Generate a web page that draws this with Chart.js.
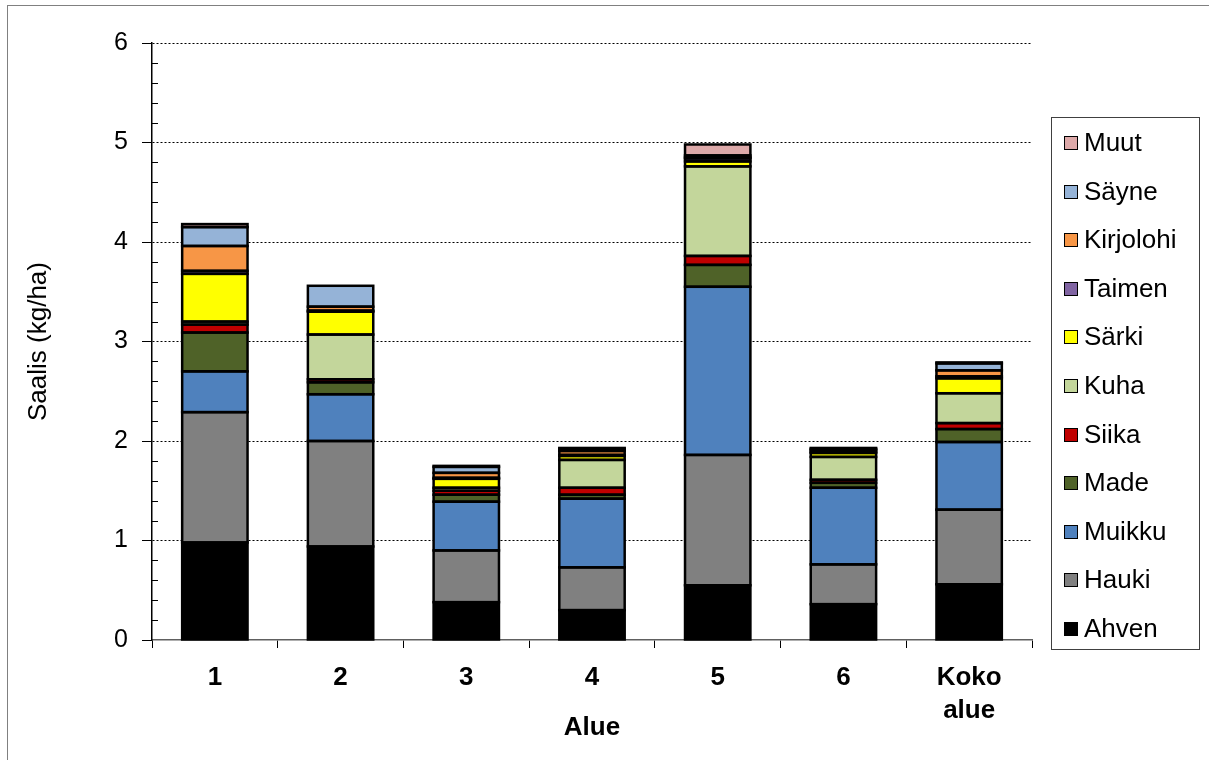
<!DOCTYPE html>
<html lang="fi">
<head>
<meta charset="utf-8">
<title>Saalis alueittain</title>
<script src="https://cdn.jsdelivr.net/npm/chart.js@4.4.1/dist/chart.umd.min.js"></script>
<style>
    html, body { margin: 0; padding: 0; background: #fff; }
    #wrap { position: relative; width: 1209px; height: 760px; overflow: hidden; }
    #frame {
        position: absolute; left: 7px; top: 5px; width: 1300px; height: 900px;
        border-left: 1px solid #808080; border-top: 1px solid #808080;
    }
    #chart { position: absolute; left: 0; top: 0; }
    #legend {
        position: absolute; left: 1051px; top: 117px; width: 149px; height: 533px;
        border: 1px solid #404040; box-sizing: border-box;
        font-family: "Liberation Sans", Arial, sans-serif; font-size: 26px; color: #000;
    }
    .item { position: absolute; left: 12px; height: 28px; line-height: 28px; white-space: nowrap; }
    .box {
        display: inline-block; width: 12px; height: 12px; border: 1.5px solid #000;
        margin-right: 6px; vertical-align: 1px;
    }
</style>
</head>
<body>
<div id="wrap">
    <div id="frame"></div>
    <canvas id="chart" width="1209" height="760"></canvas>
    <div id="legend"></div>
</div>
<script>
// Alueet ja lajikohtainen saalis (kg/ha), alhaalta ylös
const alueet = ['1', '2', '3', '4', '5', '6', ['Koko', 'alue']];

const ahven     = [0.98, 0.94, 0.38, 0.30, 0.55, 0.36, 0.56];
const hauki     = [1.31, 1.06, 0.52, 0.43, 1.31, 0.40, 0.75];
const muikku    = [0.41, 0.47, 0.49, 0.69, 1.69, 0.77, 0.68];
const made      = [0.39, 0.12, 0.07, 0.04, 0.22, 0.05, 0.13];
const siika     = [0.08, 0.03, 0.04, 0.07, 0.09, 0.03, 0.06];
const kuha      = [0.03, 0.45, 0.03, 0.28, 0.90, 0.23, 0.30];
const sarki     = [0.48, 0.23, 0.09, 0.04, 0.05, 0.04, 0.15];
const taimen    = [0.03, 0.01, 0.01, 0.01, 0.03, 0.01, 0.02];
const kirjolohi = [0.25, 0.04, 0.05, 0.04, 0.01, 0.02, 0.06];
const sayne     = [0.19, 0.21, 0.06, 0.02, 0.02, 0.01, 0.07];
const muut      = [0.03, 0.00, 0.01, 0.01, 0.11, 0.01, 0.01];

const yTicks = [0, 1, 2, 3, 4, 5, 6];

const lajit = [
    { label: 'Ahven',     data: ahven,     color: '#000000' },
    { label: 'Hauki',     data: hauki,     color: '#808080' },
    { label: 'Muikku',    data: muikku,    color: '#4F81BD' },
    { label: 'Made',      data: made,      color: '#4F6228' },
    { label: 'Siika',     data: siika,     color: '#C00000' },
    { label: 'Kuha',      data: kuha,      color: '#C3D69B' },
    { label: 'Särki',     data: sarki,     color: '#FFFF00' },
    { label: 'Taimen',    data: taimen,    color: '#8064A2' },
    { label: 'Kirjolohi', data: kirjolohi, color: '#F79646' },
    { label: 'Säyne',     data: sayne,     color: '#95B3D7' },
    { label: 'Muut',      data: muut,      color: '#DDA9A9' }
];

const FONT = '"Liberation Sans", Arial, sans-serif';

// Pienet väliviivat y-akselille (0.2 välein, sisäänpäin)
const minorTicks = {
    id: 'minorTicks',
    afterDraw(chart) {
        const y = chart.scales.y;
        const ctx = chart.ctx;
        const x0 = chart.chartArea.left;
        ctx.save();
        ctx.strokeStyle = '#000';
        ctx.lineWidth = 1;
        for (let i = 1; i < 30; i++) {
            if (i % 5 === 0) continue;
            const py = Math.round(y.getPixelForValue(i / 5)) + 0.5;
            ctx.beginPath();
            ctx.moveTo(x0, py);
            ctx.lineTo(x0 + 6, py);
            ctx.stroke();
        }
        ctx.restore();
    }
};

// Mustat reunaviivat keskitettynä segmenttien rajoille (kuten Excelissä)
const segmentOutline = {
    id: 'segmentOutline',
    afterDatasetsDraw(chart) {
        const ctx = chart.ctx;
        ctx.save();
        ctx.strokeStyle = '#000';
        ctx.lineWidth = 2.5;
        chart.data.datasets.forEach((ds, di) => {
            const meta = chart.getDatasetMeta(di);
            meta.data.forEach((bar, i) => {
                if (!ds.data[i]) return;
                const { x, y, base, width } = bar.getProps(['x', 'y', 'base', 'width'], true);
                const top = Math.min(y, base);
                ctx.strokeRect(x - width / 2, top, width, Math.abs(base - y));
            });
        });
        ctx.restore();
    }
};

const ctx = document.getElementById('chart').getContext('2d');
new Chart(ctx, {
    type: 'bar',
    data: {
        labels: alueet,
        datasets: lajit.map(l => ({
            label: l.label,
            data: l.data,
            backgroundColor: l.color,
            borderWidth: 0,
            barPercentage: 0.52,
            categoryPercentage: 1
        }))
    },
    options: {
        responsive: false,
        animation: false,
        devicePixelRatio: 1,
        layout: { padding: { left: 0, right: 177, top: 43, bottom: 0 } },
        plugins: {
            legend: { display: false },
            tooltip: { enabled: false }
        },
        scales: {
            x: {
                stacked: true,
                offset: true,
                afterFit: s => { s.height = 120; },
                grid: {
                    offset: true,
                    drawOnChartArea: false,
                    drawTicks: true,
                    tickLength: 8,
                    color: '#000',
                    lineWidth: 1
                },
                border: { display: true, color: '#606060', width: 1.5 },
                ticks: {
                    color: '#000',
                    padding: 13,
                    font: { family: FONT, size: 26, weight: 'bold', lineHeight: 1.27 },
                    maxRotation: 0
                },
                title: {
                    display: true,
                    text: 'Alue',
                    color: '#000',
                    font: { family: FONT, size: 26, weight: 'bold' },
                    padding: { top: 0, bottom: 17 }
                }
            },
            y: {
                stacked: true,
                min: 0,
                max: 6,
                afterFit: s => { s.width = 152; },
                afterBuildTicks: s => { s.ticks = yTicks.map(v => ({ value: v })); },
                grid: {
                    color: c => (c.tick && c.tick.value === 0 ? 'rgba(0,0,0,0)' : '#000'),
                    tickColor: '#000',
                    lineWidth: 1,
                    drawTicks: true,
                    tickLength: 10
                },
                border: { display: true, color: '#000', width: 1.5, dash: [2, 2] },
                ticks: {
                    color: '#000',
                    padding: 14,
                    font: { family: FONT, size: 25 }
                },
                title: {
                    display: true,
                    text: 'Saalis (kg/ha)',
                    color: '#000',
                    font: { family: FONT, size: 26 },
                    padding: { top: 23, bottom: 0 }
                }
            }
        }
    },
    plugins: [segmentOutline, minorTicks]
});

// Selite: ylin laji ylimpänä
const legend = document.getElementById('legend');
lajit.slice().reverse().forEach((l, i) => {
    const item = document.createElement('div');
    item.className = 'item';
    item.style.top = (10 + i * 48.6) + 'px';
    const box = document.createElement('span');
    box.className = 'box';
    box.style.background = l.color;
    item.appendChild(box);
    item.appendChild(document.createTextNode(l.label));
    legend.appendChild(item);
});
</script>
</body>
</html>
